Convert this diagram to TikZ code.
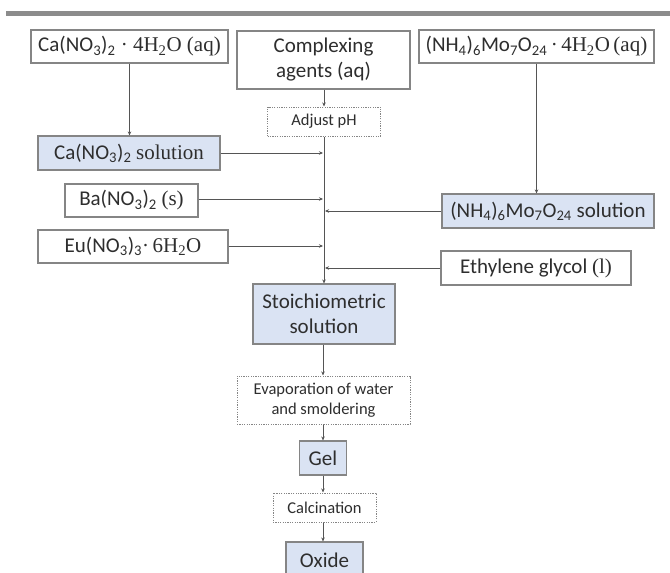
\documentclass[tikz,border=0pt]{standalone}
\usepackage{fontspec}
\setmainfont{Carlito}
\newfontfamily\serifchem{Liberation Serif}
\usetikzlibrary{arrows.meta}
\definecolor{boxblue}{HTML}{DAE3F3}
\definecolor{bordergray}{HTML}{858585}
\definecolor{txtgray}{HTML}{2E2E2E}
\definecolor{linegray}{HTML}{555555}
\definecolor{bargray}{HTML}{8C8C8C}
\newcommand\sbs[1]{\textsubscript{#1}}
\begin{document}
\begin{tikzpicture}[x=1pt,y=-1pt,
  every node/.style={text=txtgray,font=\fontsize{21}{25}\selectfont,inner sep=0pt,align=center},
  plainbox/.style={draw=bordergray,line width=1.1pt,fill=white},
  bluebox/.style={draw=bordergray,line width=1.1pt,fill=boxblue},
  dotbox/.style={draw=bordergray,line width=1pt,dash pattern=on 1.2pt off 1.2pt,fill=white,font=\fontsize{16.5}{20}\selectfont},
  conn/.style={draw=linegray,line width=0.9pt,-{Stealth[length=4pt,width=3.5pt]}}
]
\useasboundingbox[fill=white] (0,0) rectangle (670,573);
\fill[bargray] (6,11) rectangle (670,15.5);

\node[plainbox,minimum width=197pt,minimum height=33pt] (b1) at (129.5,46.5)
  {Ca(NO\sbs{3})\sbs{2}{\serifchem\ ·\ 4H\sbs{2}O (aq)}};
\node[plainbox,minimum width=173pt,minimum height=58pt] (b2) at (323.5,60)
  {Complexing\\agents (aq)};
\node[plainbox,minimum width=235pt,minimum height=33pt] (b3) at (536.5,46.5)
  {(NH\sbs{4})\sbs{6}Mo\sbs{7}O\sbs{24}{\serifchem\,·\,4H\sbs{2}O\,(aq)}};
\node[dotbox,minimum width=113pt,minimum height=29pt] (ph) at (324,121.5) {Adjust pH};
\node[bluebox,minimum width=182pt,minimum height=34pt] (casol) at (129,153)
  {Ca(NO\sbs{3})\sbs{2} {\serifchem solution}};
\node[plainbox,minimum width=133pt,minimum height=33pt] (ba) at (131.5,200.5)
  {Ba(NO\sbs{3})\sbs{2} {\serifchem (s)}};
\node[plainbox,minimum width=190pt,minimum height=33pt] (eu) at (133,246.5)
  {Eu(NO\sbs{3})\sbs{3}{\serifchem ·\,6H\sbs{2}O}};
\node[bluebox,minimum width=212pt,minimum height=34pt] (nhsol) at (548,211)
  {(NH\sbs{4})\sbs{6}Mo\sbs{7}O\sbs{24} solution};
\node[plainbox,minimum width=190pt,minimum height=34pt] (eg) at (536,268)
  {Ethylene glycol {\serifchem (l)}};
\node[bluebox,minimum width=142pt,minimum height=60pt] (st) at (324,314)
  {Stoichiometric\\solution};
\node[dotbox,minimum width=173pt,minimum height=48pt] (ev) at (323.5,400)
  {Evaporation of water\\and smoldering};
\node[bluebox,minimum width=47pt,minimum height=34pt] (gel) at (323,458) {Gel};
\node[dotbox,minimum width=103pt,minimum height=29pt] (cal) at (324.5,507.5) {Calcination};
\node[bluebox,minimum width=77pt,minimum height=36pt] (ox) at (324.5,560) {Oxide};

% junction coordinates on the main line
\coordinate (jca) at (323,153);
\coordinate (jba) at (323,199);
\coordinate (jnh) at (325,211);
\coordinate (jeu) at (323,246);
\coordinate (jeg) at (325,268);

\draw[conn] (b1.south) -- (b1.south |- casol.north);
\draw[conn] (b3.south) -- (b3.south |- nhsol.north);
\draw[conn] (ph.north |- b2.south) -- (ph.north);
\draw[conn] (ph.south) -- (ph.south |- st.north);
\draw[conn] (casol.east |- jca) -- (jca);
\draw[conn] (ba.east |- jba) -- (jba);
\draw[conn] (eu.east |- jeu) -- (jeu);
\draw[conn] (nhsol.west |- jnh) -- (jnh);
\draw[conn] (eg.west |- jeg) -- (jeg);
\draw[conn] (gel.north |- st.south) -- (gel.north |- ev.north);
\draw[conn] (gel.north |- ev.south) -- (gel.north);
\draw[conn] (gel.south) -- (gel.south |- cal.north);
\draw[conn] (gel.south |- cal.south) -- (gel.south |- ox.north);
\end{tikzpicture}
\end{document}
